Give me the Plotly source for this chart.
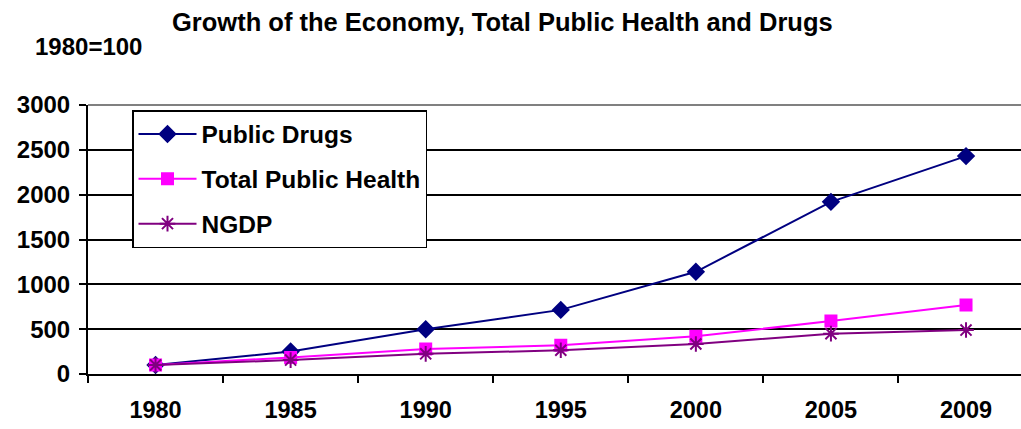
import plotly.graph_objects as go

years = ["1980", "1985", "1990", "1995", "2000", "2005", "2009"]
public_drugs = [100, 250, 500, 715, 1140, 1920, 2430]
total_public_health = [100, 185, 280, 320, 420, 590, 770]
ngdp = [100, 155, 225, 265, 335, 450, 490]

font_family = "Liberation Sans, Arial, sans-serif"

fig = go.Figure()
series = [
    ("Public Drugs", public_drugs, "#000080", "diamond", 12),
    ("Total Public Health", total_public_health, "#FF00FF", "square", 11),
    ("NGDP", ngdp, "#800080", "asterisk-open", 13),
]
for i, (name, values, color, symbol, size) in enumerate(series):
    fig.add_trace(go.Scatter(
        x=years, y=values, name=f"<b>{name}</b>", mode="lines+markers",
        line=dict(color=color, width=2),
        marker=dict(symbol=symbol, size=size, color=color,
                    line=dict(color=color, width=2)),
        legendgroup=f"g{i}",
    ))

fig.update_layout(
    width=1021, height=429,
    margin=dict(l=88, r=0, t=105, b=55),
    paper_bgcolor="white", plot_bgcolor="white",
    font=dict(family=font_family, size=24, color="black"),
    title=dict(text="<b>Growth of the Economy, Total Public Health and Drugs</b>",
               x=0.492, xanchor="center", y=0.948, yanchor="middle",
               font=dict(size=25.5)),
    showlegend=True,
    legend=dict(
        x=(132 - 88) / 933, y=1 - 5 / 269, xref="paper", yref="paper",
        xanchor="left", yanchor="top",
        bgcolor="white", bordercolor="black", borderwidth=1.5,
        font=dict(size=24.5), itemwidth=58, tracegroupgap=10,
        traceorder="grouped",
    ),
)

fig.add_annotation(text="<b>1980=100</b>", xref="paper", yref="paper",
                   x=(33 - 88) / 933, y=(374 - 47) / 269,
                   xanchor="left", yanchor="middle", showarrow=False,
                   font=dict(size=24))

fig.update_xaxes(
    type="category", range=[-0.5, 6.407],
    showline=True, linecolor="black", linewidth=2,
    ticks="outside", tickson="boundaries", ticklen=7, tickcolor="black",
    tickwidth=2, showgrid=False,
    tickfont=dict(size=23.5), ticklabelstandoff=14,
    tickprefix="<b>", ticksuffix="</b>",
)
fig.update_yaxes(
    range=[0, 3000], dtick=500, tick0=0,
    showline=True, linecolor="black", linewidth=2,
    ticks="outside", ticklen=7, tickcolor="black", tickwidth=2,
    showgrid=True, gridcolor="black", gridwidth=2, zeroline=False,
    tickfont=dict(size=24), tickprefix="<b>", ticksuffix="</b>",
    ticklabelstandoff=4,
)

# Plot-area top border drawn in grey over the top gridline
fig.add_shape(type="line", xref="x domain", yref="y domain",
              x0=0, x1=1, y0=1, y1=1, line=dict(color="#808080", width=2),
              layer="above")

fig.write_html("out.html")
